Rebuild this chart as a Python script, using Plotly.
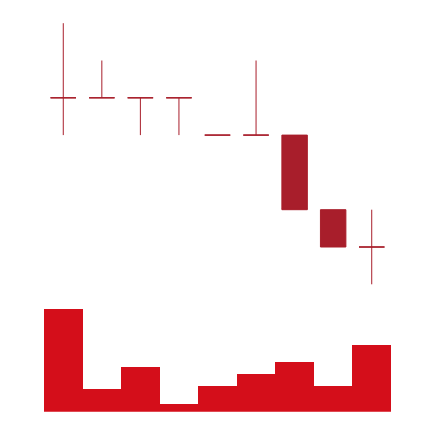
import plotly.graph_objects as go

x = list(range(9))
opens = [5, 5, 5, 5, 4, 4, 4, 2, 1]
highs = [7, 6, 5, 5, 4, 6, 4, 2, 2]
lows = [4, 5, 4, 4, 4, 4, 2, 1, 0]
closes = [5, 5, 5, 5, 4, 4, 2, 1, 1]
volumes = [103, 23, 45, 8, 26, 38, 50, 26, 67]

candle_color = "#A81E2B"
bar_color = "#D40E1A"

fig = go.Figure()
fig.add_trace(go.Candlestick(
    x=x, open=opens, high=highs, low=lows, close=closes,
    increasing=dict(line=dict(color=candle_color, width=1), fillcolor=candle_color),
    decreasing=dict(line=dict(color=candle_color, width=1), fillcolor=candle_color),
    whiskerwidth=0, yaxis="y2", showlegend=False, hoverinfo="skip",
))
fig.add_trace(go.Bar(
    x=x, y=volumes, marker=dict(color=bar_color, line=dict(width=0)),
    yaxis="y", showlegend=False, hoverinfo="skip",
))
fig.update_layout(
    width=434, height=422,
    margin=dict(l=44, r=43, t=0, b=0),
    paper_bgcolor="white", plot_bgcolor="white",
    bargap=0, boxgap=0.34, boxgroupgap=0,
    xaxis=dict(range=[-0.5, 8.5], visible=False, rangeslider=dict(visible=False)),
    yaxis=dict(domain=[0.0244, 0.2993], range=[0, 116], visible=False),
    yaxis2=dict(domain=[0.3, 1.0], range=[-0.2976, 7.622], visible=False),
)
fig.write_html("out.html")
